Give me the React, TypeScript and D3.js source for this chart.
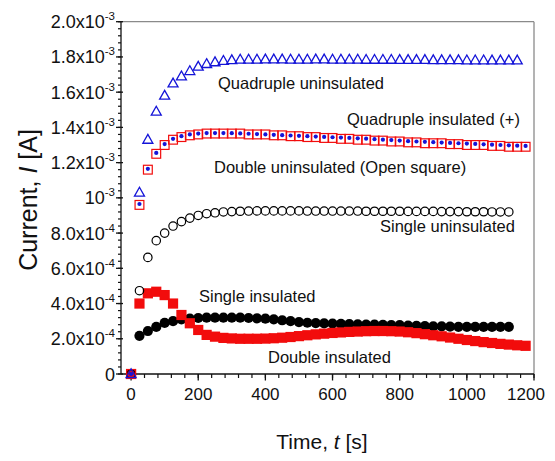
import React from "react";
import * as d3 from "d3";

// ---- data (values in units of 1e-3 A), time step 25 s ----
const quadUninsTimes = d3.range(0, 1151, 25);
const quadUnins = [
  0, 1.03, 1.33, 1.49, 1.58, 1.65, 1.69, 1.72, 1.745, 1.76, 1.77, 1.778, 1.782,
  1.785, 1.785, 1.785, 1.786, 1.786, 1.786, 1.785, 1.785, 1.785, 1.786, 1.786,
  1.785, 1.785, 1.785, 1.785, 1.784, 1.784, 1.784, 1.784, 1.783, 1.783, 1.783,
  1.783, 1.782, 1.782, 1.782, 1.782, 1.781, 1.781, 1.781, 1.78, 1.78, 1.78, 1.78,
];

const doubleUninsTimes = d3.range(0, 1176, 25);
const doubleUnins = [
  0, 0.96, 1.16, 1.25, 1.3, 1.33, 1.345, 1.355, 1.36, 1.365, 1.365, 1.365, 1.365,
  1.365, 1.36, 1.36, 1.36, 1.355, 1.355, 1.35, 1.35, 1.345, 1.345, 1.34, 1.34,
  1.335, 1.335, 1.33, 1.33, 1.325, 1.325, 1.32, 1.32, 1.315, 1.315, 1.31, 1.31,
  1.31, 1.305, 1.305, 1.3, 1.3, 1.3, 1.295, 1.295, 1.29, 1.29, 1.29,
];

const quadInsTimes = d3.range(0, 1176, 25);
const quadIns = [
  0, 0.965, 1.165, 1.255, 1.305, 1.335, 1.35, 1.36, 1.365, 1.368, 1.368, 1.368,
  1.367, 1.366, 1.364, 1.362, 1.36, 1.358, 1.356, 1.354, 1.352, 1.35, 1.348,
  1.346, 1.344, 1.342, 1.34, 1.338, 1.336, 1.333, 1.33, 1.328, 1.325, 1.322,
  1.32, 1.318, 1.316, 1.314, 1.312, 1.31, 1.308, 1.306, 1.304, 1.302, 1.3, 1.298,
  1.296, 1.295,
];

const singleUninsTimes = d3.range(0, 1126, 25);
const singleUnins = [
  0, 0.473, 0.662, 0.757, 0.8, 0.84, 0.865, 0.885, 0.9, 0.91, 0.915, 0.92, 0.922,
  0.924, 0.925, 0.926, 0.926, 0.926, 0.926, 0.926, 0.926, 0.925, 0.925, 0.925,
  0.925, 0.925, 0.925, 0.925, 0.924, 0.924, 0.924, 0.924, 0.924, 0.923, 0.923,
  0.923, 0.923, 0.922, 0.922, 0.922, 0.921, 0.921, 0.921, 0.92, 0.92, 0.92,
];

const singleInsTimes = d3.range(0, 1126, 25);
const singleIns = [
  0, 0.217, 0.244, 0.267, 0.29, 0.3, 0.31, 0.315, 0.318, 0.32, 0.32, 0.32, 0.32,
  0.32, 0.318, 0.316, 0.314, 0.31, 0.305, 0.3, 0.295, 0.291, 0.289, 0.287, 0.286,
  0.284, 0.283, 0.282, 0.281, 0.28, 0.279, 0.278, 0.277, 0.275, 0.273, 0.272,
  0.27, 0.27, 0.269, 0.268, 0.268, 0.267, 0.267, 0.267, 0.267, 0.268,
];

const doubleInsTimes = d3.range(0, 1176, 25);
const doubleIns = [
  0, 0.4, 0.458, 0.467, 0.448, 0.4, 0.335, 0.288, 0.25, 0.222, 0.212, 0.205,
  0.202, 0.2, 0.2, 0.2, 0.201, 0.203, 0.206, 0.21, 0.215, 0.22, 0.225, 0.229,
  0.233, 0.236, 0.239, 0.241, 0.243, 0.244, 0.244, 0.243, 0.241, 0.237, 0.232,
  0.226, 0.22, 0.214, 0.207, 0.2, 0.193, 0.187, 0.181, 0.176, 0.171, 0.167,
  0.163, 0.16,
];

const xTicks = [0, 200, 400, 600, 800, 1000, 1200];
const yTicks = [0, 0.2, 0.4, 0.6, 0.8, 1.0, 1.2, 1.4, 1.6, 1.8, 2.0];
const yTickMantissa = ["0", "2.0x10", "4.0x10", "6.0x10", "8.0x10", "10", "1.2x10", "1.4x10", "1.6x10", "1.8x10", "2.0x10"];
const yTickExp = ["", "-4", "-4", "-4", "-4", "-3", "-3", "-3", "-3", "-3", "-3"];

const annotations = [
  { text: "Quadruple uninsulated", x: 218, y: 89 },
  { text: "Quadruple insulated (+)", x: 347, y: 125 },
  { text: "Double uninsulated (Open square)", x: 214, y: 173 },
  { text: "Single uninsulated", x: 380, y: 232 },
  { text: "Single insulated", x: 199, y: 302 },
  { text: "Double insulated", x: 268, y: 363 },
];

const W = 555;
const H = 461;
const L = 121, R = 534, T = 21.7, B = 374;
const BLUE = "#1414d8";
const RED = "#f20c0c";
const FONT = "'Liberation Sans', Arial, sans-serif";

export default function App() {
  const x = d3.scaleLinear().domain([-30, 1200]).range([L, R]);
  const y = d3.scaleLinear().domain([0, 2.0]).range([B, T]);

  const zip = (ts: number[], vs: number[]) => vs.map((v, i) => ({ px: x(ts[i]), py: y(v) }));

  const xMinor = d3.range(0, 1201, 40);
  const yMinor = d3.range(0, 2.0001, 0.04);

  const tri = (cx: number, cy: number) => {
    const hw = 5.0, h = 8.8;
    return `M${cx},${cy - h * 0.6}L${cx + hw},${cy + h * 0.4}L${cx - hw},${cy + h * 0.4}Z`;
  };

  return (
    <svg width={W} height={H} style={{ position: "absolute", left: 0, top: 0, background: "#fff" }} fontFamily={FONT}>
      {/* frame */}
      <line x1={L} x2={R} y1={T} y2={T} stroke="#8a8a8a" strokeWidth={1.3} />
      <line x1={R} x2={R} y1={T} y2={B} stroke="#8a8a8a" strokeWidth={1.3} />
      <line x1={L} x2={L} y1={T} y2={B} stroke="#111" strokeWidth={1.3} />
      <line x1={L} x2={R} y1={B} y2={B} stroke="#111" strokeWidth={1.3} />

      {/* y ticks */}
      {yMinor.map((v, i) => (
        <line key={"ym" + i} x1={L - 3} x2={L} y1={y(v)} y2={y(v)} stroke="#111" strokeWidth={1.2} />
      ))}
      {yTicks.map((v, i) => (
        <line key={"yM" + i} x1={L - 5} x2={L + 2} y1={y(v)} y2={y(v)} stroke="#111" strokeWidth={1.3} />
      ))}
      {yTicks.map((v, i) => (
        <text key={"yl" + i} x={115} y={y(v) + 6.5} textAnchor="end" fontSize={18} fill="#111">
          <tspan>{yTickMantissa[i]}</tspan>
          {yTickExp[i] && (
            <tspan dy={-8} fontSize={11.5}>
              {yTickExp[i]}
            </tspan>
          )}
        </text>
      ))}

      {/* x ticks */}
      {xMinor.map((v, i) => (
        <line key={"xm" + i} x1={x(v)} x2={x(v)} y1={B} y2={B + 4} stroke="#111" strokeWidth={1.2} />
      ))}
      {xTicks.map((v, i) => (
        <line key={"xM" + i} x1={x(v)} x2={x(v)} y1={B} y2={B + 6.5} stroke="#111" strokeWidth={1.3} />
      ))}
      {xTicks.map((v, i) => (
        <text key={"xl" + i} x={i === xTicks.length - 1 ? x(v) - 8 : x(v)} y={400} textAnchor="middle" fontSize={17} fill="#111">
          {v}
        </text>
      ))}

      {/* axis titles */}
      <text x={322} y={449} textAnchor="middle" fontSize={21} fill="#111">
        Time, <tspan fontStyle="italic">t</tspan> [s]
      </text>
      <text transform="translate(37,200) rotate(-90)" textAnchor="middle" fontSize={25} fill="#111">
        Current, <tspan fontStyle="italic">I</tspan> [A]
      </text>

      {/* series: single insulated (filled black circles) */}
      {zip(singleInsTimes, singleIns).map((p, i) => (
        <circle key={"si" + i} cx={p.px} cy={p.py} r={5.1} fill="#000" />
      ))}
      {/* double insulated (filled red squares) */}
      {zip(doubleInsTimes, doubleIns).map((p, i) => (
        <rect key={"di" + i} x={p.px - 5.1} y={p.py - 5.1} width={10.2} height={10.2} fill={RED} />
      ))}
      {/* single uninsulated (open circles) */}
      {zip(singleUninsTimes, singleUnins).map((p, i) => (
        <circle key={"su" + i} cx={p.px} cy={p.py} r={4.2} fill="none" stroke="#000" strokeWidth={1.2} />
      ))}
      {/* double uninsulated (open red squares) */}
      {zip(doubleUninsTimes, doubleUnins).map((p, i) => (
        <rect key={"du" + i} x={p.px - 4.4} y={p.py - 4.4} width={8.8} height={8.8} fill="none" stroke={RED} strokeWidth={1.2} />
      ))}
      {/* quadruple insulated (blue dots) */}
      {zip(quadInsTimes, quadIns).map((p, i) => (
        <circle key={"qi" + i} cx={p.px} cy={p.py} r={2.1} fill={BLUE} />
      ))}
      {/* quadruple uninsulated (open blue triangles) */}
      {zip(quadUninsTimes, quadUnins).map((p, i) => (
        <path key={"qu" + i} d={tri(p.px, p.py)} fill="none" stroke={BLUE} strokeWidth={1.3} />
      ))}

      {/* annotations */}
      {annotations.map((a, i) => (
        <text key={"an" + i} x={a.x} y={a.y} fontSize={16.5} fill="#111">
          {a.text}
        </text>
      ))}
    </svg>
  );
}
